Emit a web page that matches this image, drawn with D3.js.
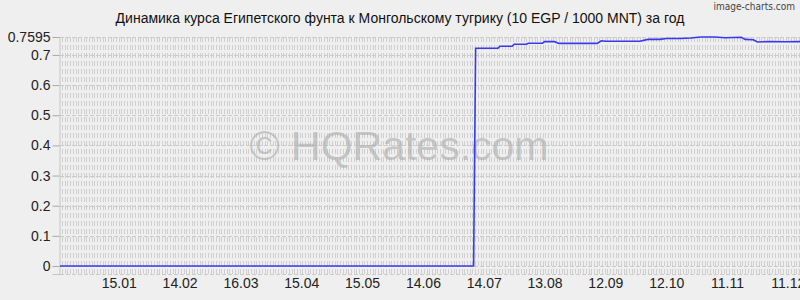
<!DOCTYPE html>
<html>
<head>
<meta charset="utf-8">
<script src="https://cdn.jsdelivr.net/npm/d3@7"></script>
<style>
  html, body { margin: 0; padding: 0; background: #efefef; }
  svg { display: block; font-family: "Liberation Sans", Arial, sans-serif; }
</style>
</head>
<body>
<svg id="chart" width="800" height="300"></svg>
<script>
const title = "Динамика курса Египетского фунта к Монгольскому тугрику (10 EGP / 1000 MNT) за год";

// daily rate points, zero until the data starts
const dates = [
  "2014-12-17", "2015-07-09", "2015-07-10", "2015-07-21", "2015-07-22",
  "2015-07-28", "2015-07-29", "2015-08-04", "2015-08-05", "2015-08-12",
  "2015-08-13", "2015-08-18", "2015-08-20", "2015-09-08", "2015-09-10",
  "2015-09-12", "2015-09-29", "2015-10-03", "2015-10-09", "2015-10-12",
  "2015-10-19", "2015-10-24", "2015-10-29", "2015-11-05", "2015-11-10",
  "2015-11-18", "2015-11-20", "2015-11-24", "2015-11-26", "2015-12-02",
  "2015-12-10", "2015-12-17"
];
const rates = [
  0, 0, 0.7223, 0.7223, 0.7286,
  0.7286, 0.7356, 0.7356, 0.739, 0.739,
  0.744, 0.744, 0.7383, 0.7383, 0.7472,
  0.7456, 0.7456, 0.7515, 0.7515, 0.7545,
  0.7545, 0.7562, 0.7595, 0.7595, 0.7572,
  0.7585, 0.7515, 0.7505, 0.743, 0.7445,
  0.7435, 0.7443
];

const xTickDates = [
  "2015-01-15", "2015-02-14", "2015-03-16", "2015-04-15", "2015-05-15", "2015-06-14",
  "2015-07-14", "2015-08-13", "2015-09-12", "2015-10-12", "2015-11-11", "2015-12-11"
];
const yTicks = [0, 0.1, 0.2, 0.3, 0.4, 0.5, 0.6, 0.7, 0.7595];

const margin = { left: 60, right: 800, top: 37, bottom: 274 };

const svg = d3.select("#chart");
const parse = d3.utcParse("%Y-%m-%d");
const data = dates.map((d, i) => ({ date: parse(d), value: rates[i] }));

// scales
const xScale = d3.scaleUtc()
  .domain([parse("2014-12-17"), parse("2015-12-17")])
  .range([margin.left, margin.right]);

const yScale = d3.scaleLinear()
  .domain([-0.0265, 0.7595])
  .range([margin.bottom, margin.top]);

// background grid: dense vertical dashed lines
const grid = svg.append("g");
const vx = d3.range(margin.left + 2, margin.right, 2.7);
grid.selectAll(".vgrid")
  .data(vx)
  .join("line")
  .attr("x1", (d) => Math.round(d) + 0.5)
  .attr("x2", (d) => Math.round(d) + 0.5)
  .attr("y1", margin.top)
  .attr("y2", margin.bottom)
  .attr("stroke", "#cfcfcf")
  .attr("stroke-dasharray", "5,3");

grid.selectAll(".hgrid")
  .data(yTicks.concat([-0.0265]))
  .join("line")
  .attr("x1", margin.left)
  .attr("x2", margin.right)
  .attr("y1", (d) => Math.round(yScale(d)) + 0.5)
  .attr("y2", (d) => Math.round(yScale(d)) + 0.5)
  .attr("stroke", "#cbcbcb")
  .attr("stroke-dasharray", "4,2");

// watermark
svg.append("text")
  .attr("x", 399)
  .attr("y", 160)
  .attr("text-anchor", "middle")
  .attr("font-size", 41)
  .attr("fill", "#ababab")
  .attr("fill-opacity", 0.6)
  .text("© HQRates.com");

// axes
const yAxis = d3.axisLeft(yScale)
  .tickValues(yTicks)
  .tickSize(7)
  .tickPadding(2)
  .tickFormat((d) => String(d));

const yG = svg.append("g")
  .attr("transform", `translate(${margin.left - 0.5}, 0)`)
  .call(yAxis);
yG.select(".domain").attr("stroke", "#c4c4c4");
yG.selectAll(".tick line").attr("stroke", "#aaa");
yG.selectAll(".tick text")
  .attr("font-size", 14)
  .attr("font-family", "Liberation Sans, Arial, sans-serif")
  .attr("fill", "#222");

const xAxis = d3.axisBottom(xScale)
  .tickValues(xTickDates.map(parse))
  .tickSize(0)
  .tickPadding(4)
  .tickFormat(d3.utcFormat("%d.%m"));

const xG = svg.append("g")
  .attr("transform", `translate(0, ${margin.bottom})`)
  .call(xAxis);
xG.select(".domain").remove();
xG.selectAll(".tick text")
  .attr("font-size", 14)
  .attr("font-family", "Liberation Sans, Arial, sans-serif")
  .attr("fill", "#222");

// rate line
const line = d3.line()
  .x((d) => xScale(d.date))
  .y((d) => yScale(d.value));

svg.append("path")
  .datum(data)
  .attr("d", line)
  .attr("fill", "none")
  .attr("stroke", "#3838f0")
  .attr("stroke-width", 1.6);

// title
svg.append("text")
  .attr("x", 400)
  .attr("y", 23)
  .attr("text-anchor", "middle")
  .attr("font-size", 14)
  .attr("fill", "#111")
  .text(title);

svg.append("text")
  .attr("x", 795)
  .attr("y", 10)
  .attr("text-anchor", "end")
  .attr("font-size", 10)
  .attr("font-family", "DejaVu Sans Condensed, DejaVu Sans, sans-serif")
  .attr("fill", "#444")
  .text("image-charts.com");
</script>
</body>
</html>
